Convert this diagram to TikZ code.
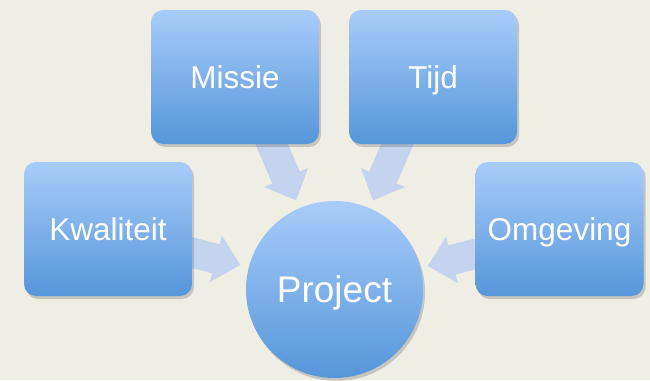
\documentclass[tikz,border=0pt]{standalone}
\usepackage{fontspec}
\setmainfont{Liberation Sans}
\usetikzlibrary{calc,shadows}
\definecolor{bgc}{HTML}{EFEEE5}
\definecolor{toptone}{HTML}{A9CCFA}
\definecolor{bottone}{HTML}{5596DA}
\definecolor{arrc}{HTML}{C4D4EE}
\tikzset{
  boxsty/.style={rectangle, rounded corners=12pt, minimum width=168pt, minimum height=134pt,
    top color=toptone, bottom color=bottone, draw=none, text=white,
    font=\fontsize{31.5}{36}\selectfont, text height=22.5pt, text depth=0pt,
    drop shadow={shadow xshift=2pt, shadow yshift=-3pt, opacity=0.25, fill=black!70}},
  circsty/.style={circle, minimum size=177pt, inner sep=0pt,
    top color=toptone, bottom color=bottone, draw=none, text=white,
    font=\fontsize{37}{44}\selectfont, text height=26.5pt, text depth=0pt,
    drop shadow={shadow xshift=2pt, shadow yshift=-3pt, opacity=0.25, fill=black!70}},
  arrsty/.style={fill=arrc, draw=none}
}
\newcommand{\blockarrow}[4]{% start, target, length, name
  \coordinate (#4s) at #1;
  \coordinate (#4b) at ($(#4s)!#3pt-25pt!(#2)$);
  \coordinate (#4t) at ($(#4s)!#3pt!(#2)$);
  \fill[arrsty] ($(#4s)!15pt!90:(#2)$) -- ($(#4b)!15pt!-90:(#4s)$) -- ($(#4b)!24pt!-90:(#4s)$)
    -- (#4t) -- ($(#4b)!24pt!90:(#4s)$) -- ($(#4b)!15pt!90:(#4s)$) -- ($(#4s)!15pt!-90:(#2)$) -- cycle;
}
\begin{document}
\begin{tikzpicture}[x=1pt,y=-1pt]
\fill[bgc] (0,0) rectangle (650,380);
\useasboundingbox (0,0) rectangle (650,380);
\coordinate (pc) at (334.5,289.5);
\blockarrow{(269,138)}{pc}{68}{am}
\blockarrow{(400,138)}{pc}{68}{at}
\blockarrow{(186,251)}{pc}{56}{ak}
\blockarrow{(483,252)}{pc}{57}{ao}
\node[boxsty] (missie) at (235,77) {Missie};
\node[boxsty] (tijd) at (433,77) {Tijd};
\node[boxsty] (kwal) at (108,229) {Kwaliteit};
\node[boxsty] (omg) at (559.5,229) {Omgeving};
\node[circsty] (proj) at (pc) {Project};
\end{tikzpicture}
\end{document}
